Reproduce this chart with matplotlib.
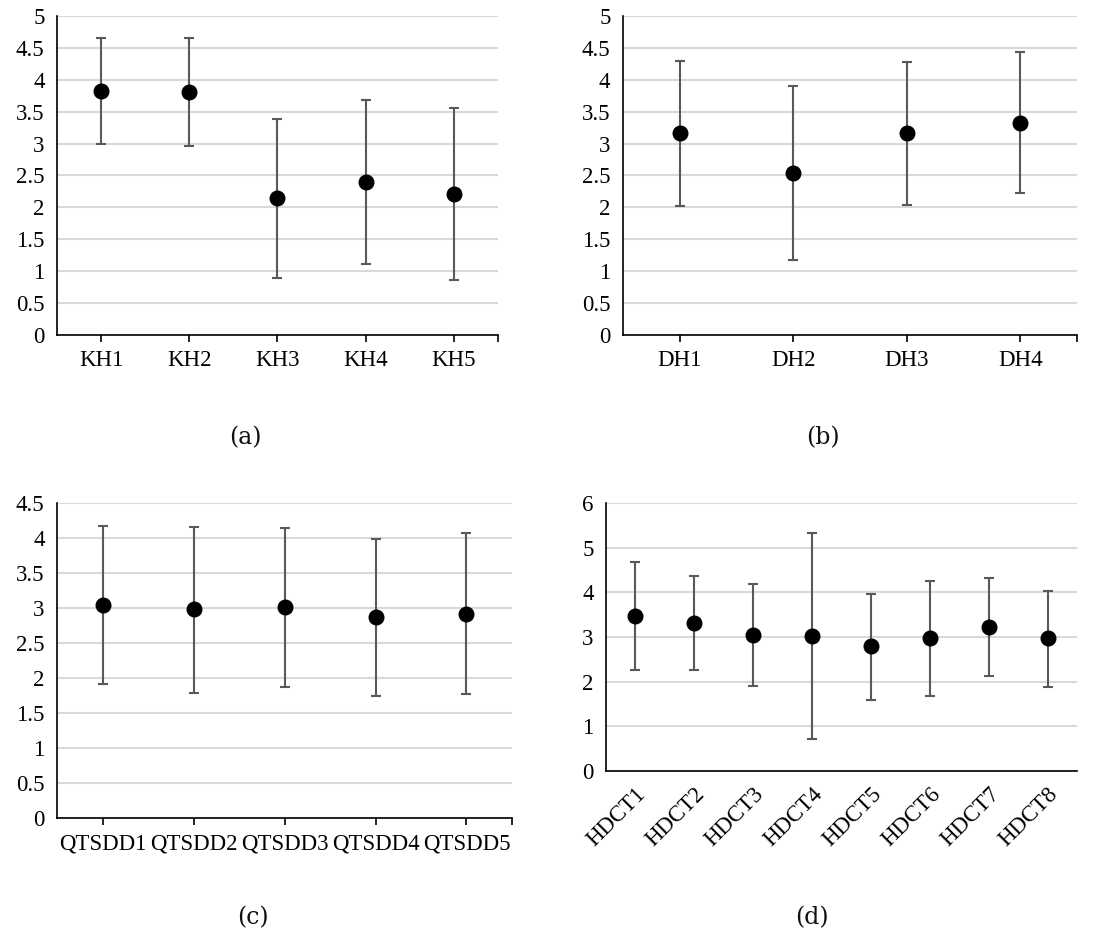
import matplotlib
matplotlib.use("Agg")
import matplotlib.pyplot as plt

plt.rcParams["font.family"] = ["Liberation Serif", "DejaVu Serif"]

# panel (a)
kh_labels = ["KH1", "KH2", "KH3", "KH4", "KH5"]
kh_mean = [3.83, 3.81, 2.14, 2.40, 2.21]
kh_upper = [4.66, 4.66, 3.39, 3.69, 3.56]
kh_lower = [3.00, 2.96, 0.90, 1.11, 0.86]

# panel (b)
dh_labels = ["DH1", "DH2", "DH3", "DH4"]
dh_mean = [3.16, 2.54, 3.16, 3.33]
dh_upper = [4.30, 3.90, 4.28, 4.44]
dh_lower = [2.02, 1.18, 2.04, 2.23]

# panel (c)
qt_labels = ["QTSDD1", "QTSDD2", "QTSDD3", "QTSDD4", "QTSDD5"]
qt_mean = [3.05, 2.98, 3.01, 2.87, 2.92]
qt_upper = [4.165, 4.16, 4.14, 3.99, 4.07]
qt_lower = [1.92, 1.79, 1.87, 1.74, 1.77]

# panel (d)
hd_labels = ["HDCT1", "HDCT2", "HDCT3", "HDCT4", "HDCT5", "HDCT6", "HDCT7", "HDCT8"]
hd_mean = [3.47, 3.32, 3.05, 3.03, 2.79, 2.97, 3.23, 2.97]
hd_upper = [4.69, 4.37, 4.19, 5.33, 3.96, 4.26, 4.32, 4.04]
hd_lower = [2.26, 2.26, 1.91, 0.72, 1.60, 1.68, 2.13, 1.89]

GRID = "#d9d9d9"
BAR = "#595959"
FS = 16.5


def draw(ax, labels, mean, upper, lower, ymax, ystep, rotate=False):
    n = len(labels)
    x = list(range(1, n + 1))
    err = [[m - lo for m, lo in zip(mean, lower)], [u - m for m, u in zip(mean, upper)]]
    ax.errorbar(x, mean, yerr=err, fmt="o", color="black", markersize=10.5,
                ecolor=BAR, elinewidth=1.5, capsize=3.7, capthick=1.5, zorder=3)
    ax.set_xlim(0.5, n + 0.5)
    ax.set_ylim(0, ymax)
    yt = [i * ystep for i in range(int(round(ymax / ystep)) + 1)]
    ax.set_yticks(yt)
    ax.set_yticklabels([f"{v:g}" for v in yt])
    ax.grid(axis="y", color=GRID, linewidth=1.5, zorder=0)
    ax.set_axisbelow(True)
    ax.spines[["top", "right"]].set_visible(False)
    for s in ("left", "bottom"):
        ax.spines[s].set_linewidth(1.2)
        ax.spines[s].set_color("black")
    ax.tick_params(axis="y", length=0, pad=9, labelsize=FS)
    if rotate:
        ax.set_xticks(x)
        ax.set_xticklabels(labels, rotation=45, ha="right", rotation_mode="anchor")
        ax.tick_params(axis="x", length=0, pad=9, labelsize=FS)
    else:
        ax.set_xticks(x + [n + 0.5])
        ax.set_xticklabels(labels + [""])
        ax.tick_params(axis="x", length=5, width=1.2, direction="out", pad=6, labelsize=FS)


fig = plt.figure(figsize=(11.14, 9.32), dpi=100)

ax_a = fig.add_axes([0.0512, 0.6406, 0.447 - 0.0512, 0.9828 - 0.6406])
ax_b = fig.add_axes([0.5592, 0.6406, 0.9668 - 0.5592, 0.9828 - 0.6406])
ax_c = fig.add_axes([0.0512, 0.1223, 0.4596 - 0.0512, 0.4603 - 0.1223])
ax_d = fig.add_axes([0.5440, 0.1727, 0.9668 - 0.5440, 0.4603 - 0.1727])

draw(ax_a, kh_labels, kh_mean, kh_upper, kh_lower, 5, 0.5)
draw(ax_b, dh_labels, dh_mean, dh_upper, dh_lower, 5, 0.5)
draw(ax_c, qt_labels, qt_mean, qt_upper, qt_lower, 4.5, 0.5)
draw(ax_d, hd_labels, hd_mean, hd_upper, hd_lower, 6, 1, rotate=True)

for txt, xp, yp in [("(a)", 245, 438), ("(b)", 823, 438), ("(c)", 253, 918), ("(d)", 812, 918)]:
    fig.text(xp / 1114, 1 - yp / 932, txt, ha="center", va="center", fontsize=17,
             family=["DejaVu Serif"], color="#111111")

fig.savefig("out.png", dpi=100)
